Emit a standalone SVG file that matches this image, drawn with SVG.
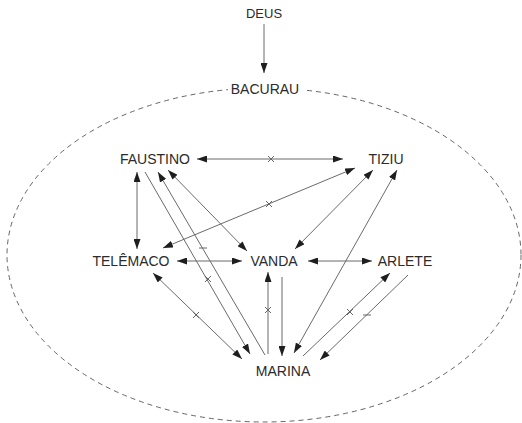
<svg xmlns="http://www.w3.org/2000/svg" width="522" height="423" viewBox="0 0 522 423">
<defs>
<style>
.t{font-family:"Liberation Sans",Arial,sans-serif;font-size:14px;fill:#2b2b2b;text-anchor:middle}
.c line{stroke:#6a6a6a;stroke-width:1;fill:none}
.m path{stroke:#666;stroke-width:1;fill:none}
</style>
<marker id="a" viewBox="0 0 10 7" refX="10" refY="3.5" markerWidth="10" markerHeight="7" markerUnits="userSpaceOnUse" orient="auto-start-reverse">
<path d="M0,0 L10,3.5 L0,7 z" fill="#1e1e1e"/>
</marker>
</defs>
<rect width="522" height="423" fill="#fff"/>
<ellipse cx="264" cy="255" rx="257" ry="167" fill="none" stroke="#555" stroke-width="0.9" stroke-dasharray="5 4"/>
<rect x="228" y="80" width="75" height="18" fill="#fff"/>
<g id="connectors" class="c">
<line x1="264" y1="24" x2="264" y2="73" marker-end="url(#a)"/>
<line x1="197" y1="159" x2="343" y2="159" marker-start="url(#a)" marker-end="url(#a)"/>
<line x1="137" y1="172" x2="137" y2="249" marker-start="url(#a)" marker-end="url(#a)"/>
<line x1="163" y1="248" x2="355" y2="168" marker-start="url(#a)" marker-end="url(#a)"/>
<line x1="168" y1="170" x2="247" y2="251" marker-start="url(#a)" marker-end="url(#a)"/>
<line x1="158" y1="172" x2="265" y2="355" marker-start="url(#a)"/>
<line x1="145" y1="172" x2="250" y2="354" marker-end="url(#a)"/>
<line x1="153" y1="273" x2="242" y2="359" marker-start="url(#a)" marker-end="url(#a)"/>
<line x1="177" y1="261" x2="242" y2="261" marker-start="url(#a)" marker-end="url(#a)"/>
<line x1="308" y1="261" x2="372" y2="261" marker-start="url(#a)" marker-end="url(#a)"/>
<line x1="295" y1="249" x2="373" y2="170" marker-start="url(#a)" marker-end="url(#a)"/>
<line x1="268" y1="354" x2="268" y2="272" marker-end="url(#a)"/>
<line x1="282" y1="277" x2="282" y2="356" marker-end="url(#a)"/>
<line x1="294" y1="353" x2="397" y2="170" marker-start="url(#a)" marker-end="url(#a)"/>
<line x1="303" y1="356" x2="390" y2="273" marker-end="url(#a)"/>
<line x1="408" y1="275" x2="320" y2="360" marker-end="url(#a)"/>
</g>
<g id="marks" class="m">
<path d="M268,156 L274,162 M274,156 L268,162"/>
<path d="M266,201 L272,207 M272,201 L266,207"/>
<path d="M205,276 L211,282 M211,276 L205,282"/>
<path d="M193,312 L199,318 M199,312 L193,318"/>
<path d="M265,307 L271,313 M271,307 L265,313"/>
<path d="M347,309 L353,315 M353,309 L347,315"/>
<path d="M199,248 L207,248"/>
<path d="M363,315 L371,315"/>
</g>
<g id="deus"><text class="t" x="264" y="18" style="font-size:13px">DEUS</text></g>
<g id="bacurau"><text class="t" x="265" y="94">BACURAU</text></g>
<g id="faustino"><text class="t" x="155" y="164">FAUSTINO</text></g>
<g id="tiziu"><text class="t" x="386" y="164">TIZIU</text></g>
<g id="telemaco"><text class="t" x="131" y="266">TELÊMACO</text></g>
<g id="vanda"><text class="t" x="274" y="266">VANDA</text></g>
<g id="arlete"><text class="t" x="405" y="266">ARLETE</text></g>
<g id="marina"><text class="t" x="283" y="376">MARINA</text></g>
</svg>
